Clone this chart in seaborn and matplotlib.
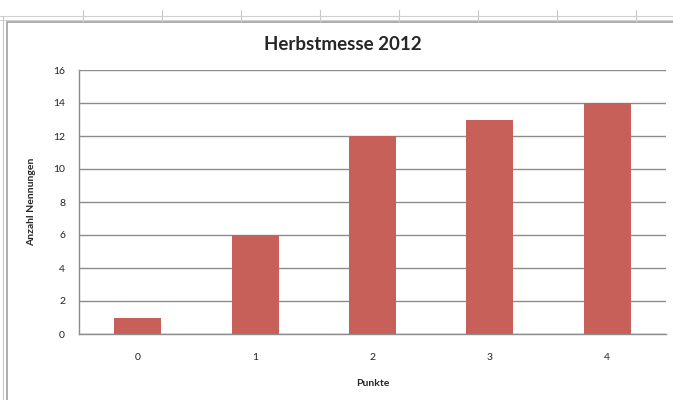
import numpy as np
import pandas as pd
import matplotlib
matplotlib.use("Agg")
import matplotlib.pyplot as plt
from matplotlib.lines import Line2D
from matplotlib.patches import Rectangle
import seaborn as sns

# data
punkte = ["0", "1", "2", "3", "4"]
nennungen = [1, 6, 12, 13, 14]
y_ticks = [0, 2, 4, 6, 8, 10, 12, 14, 16]

bar_color = "#C8605A"
grid_color = "#8C8C8C"

sns.set_style("white")
plt.rcParams["font.family"] = ["Lato", "DejaVu Sans"]

df = pd.DataFrame({"Punkte": punkte, "Anzahl": nennungen})

fig = plt.figure(figsize=(6.73, 4.0), dpi=100)

# spreadsheet background: column lines at top and chart frame
for xf in np.arange(83, 673, 79) / 673:
    fig.add_artist(Line2D([xf, xf], [1 - 10 / 400, 1 - 22 / 400], color="#C8C8C8", lw=0.8))
fig.add_artist(Line2D([0, 1], [1 - 16 / 400, 1 - 16 / 400], color="#D0D0D0", lw=0.8))
fig.add_artist(Line2D([0, 1], [1 - 20 / 400, 1 - 20 / 400], color="#D0D0D0", lw=0.8))
fig.add_artist(Line2D([3 / 673, 3 / 673], [0, 1 - 16 / 400], color="#C8C8C8", lw=0.8))
fig.add_artist(Rectangle((7 / 673, -0.01), 1, 1 - 22 / 400 + 0.01,
                         transform=fig.transFigure, fill=False,
                         edgecolor="#A0A0A0", lw=1.2))

ax = fig.add_axes([79 / 673, 66 / 400, 587 / 673, 264 / 400])
sns.barplot(data=df, x="Punkte", y="Anzahl", color=bar_color, width=0.4,
            saturation=1, linewidth=0, ax=ax)

ax.set_xlim(-0.5, len(punkte) - 0.5)
ax.set_ylim(0, 16)
ax.set_yticks(y_ticks)
ax.yaxis.grid(True, color=grid_color, lw=1)
ax.set_axisbelow(True)

for side in ["top", "right"]:
    ax.spines[side].set_visible(False)
for side in ["left", "bottom"]:
    ax.spines[side].set_color(grid_color)
    ax.spines[side].set_linewidth(1)

ax.set_xticks(np.arange(-0.5, len(punkte), 1), minor=True)
ax.tick_params(axis="x", which="major", length=0, pad=14, labelsize=7.5)
ax.tick_params(axis="x", which="minor", length=4, color=grid_color, width=1,
               direction="out")
ax.tick_params(axis="y", length=4, color=grid_color, width=1, direction="out",
               labelsize=7.5, pad=6)
ax.tick_params(axis="both", colors="#222222", which="major")
ax.tick_params(axis="x", which="minor", colors=grid_color)

ax.set_xlabel("Punkte", fontsize=7.5, fontweight="bold", labelpad=12)
ax.set_ylabel("Anzahl Nennungen", fontsize=7.5, fontweight="bold", labelpad=12)
# title is centred on the chart frame, not on the plot area
fig.text(343 / 673, 1 - 44 / 400, "Herbstmesse 2012", fontsize=13.5,
         fontweight="bold", ha="center", va="center")

fig.savefig("out.png", dpi=100)
